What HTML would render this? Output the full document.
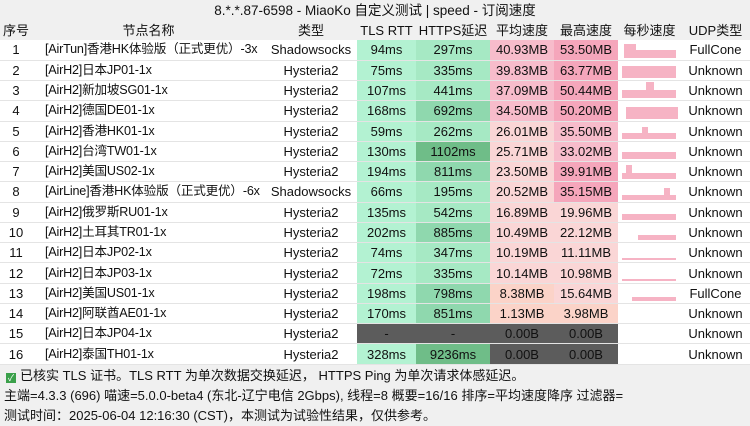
<!DOCTYPE html><html><head><meta charset="utf-8"><style>
body{margin:0;width:750px;height:426px;background:#f0f0f0;font-family:"Liberation Sans","Noto Sans CJK SC",sans-serif;font-size:13px;color:#111;overflow:hidden;position:relative}
.t{height:20px;line-height:21px;text-align:center;font-size:13.5px}
table{border-collapse:collapse;table-layout:fixed;width:750px;position:absolute;top:21px;left:0}
td{height:19.27px;line-height:19px;padding:0;text-align:center;white-space:nowrap;overflow:hidden;border-bottom:1px solid #e4e4e4;background:#fff;box-sizing:border-box}
tr{height:20.27px}
td{height:20.27px}
tr.h{height:19px}
tr.h td{background:#f0f0f0;border-bottom:none;height:19px}
td.n{text-align:left;padding-left:13px;font-size:12.6px;letter-spacing:-0.2px}
.g1{background:#b3f2d2}.g2{background:#a6e9c4}.g3{background:#8fd8ae}.g4{background:#6fbd88}
.p1{background:#f7bccb}.p2{background:#f5a6bb}.p3{background:#fad6d6}.s1{background:#fbd3c8}
.d{background:#5c5c5c;color:#111}
.sp{position:relative}
.sp i{position:absolute;bottom:2px;background:#f6b3c4;width:6px}
.f{position:absolute;left:6px;font-size:13px;line-height:16px}
.ck{display:inline-block;width:10px;height:10px;background:#3aa04a;color:#fff;font-size:9px;line-height:10px;text-align:center;vertical-align:-1px;margin-right:4px}
</style></head><body>
<div class="t">8.*.*.87-6598 - MiaoKo 自定义测试 | speed - 订阅速度</div>
<table>
<colgroup><col style="width:32px"><col style="width:233px"><col style="width:92px"><col style="width:59px"><col style="width:74px"><col style="width:64px"><col style="width:64px"><col style="width:63px"><col style="width:69px"></colgroup>
<tr class="h"><td>序号</td><td>节点名称</td><td>类型</td><td>TLS RTT</td><td>HTTPS延迟</td><td>平均速度</td><td>最高速度</td><td>每秒速度</td><td>UDP类型</td></tr>
<tr><td>1</td><td class="n">[AirTun]香港HK体验版（正式更优）-3x</td><td>Shadowsocks</td><td class="g1">94ms</td><td class="g2">297ms</td><td class="p1">40.93MB</td><td class="p2">53.50MB</td><td class="sp"><i style="left:6px;height:14px;width:12px"></i><i style="left:18px;height:8px;width:40px"></i></td><td>FullCone</td></tr>
<tr><td>2</td><td class="n">[AirH2]日本JP01-1x</td><td>Hysteria2</td><td class="g1">75ms</td><td class="g2">335ms</td><td class="p1">39.83MB</td><td class="p2">63.77MB</td><td class="sp"><i style="left:4px;height:12px;width:54px"></i></td><td>Unknown</td></tr>
<tr><td>3</td><td class="n">[AirH2]新加坡SG01-1x</td><td>Hysteria2</td><td class="g1">107ms</td><td class="g2">441ms</td><td class="p1">37.09MB</td><td class="p2">50.44MB</td><td class="sp"><i style="left:4px;height:8px;width:54px"></i><i style="left:28px;height:16px;width:8px"></i></td><td>Unknown</td></tr>
<tr><td>4</td><td class="n">[AirH2]德国DE01-1x</td><td>Hysteria2</td><td class="g1">168ms</td><td class="g3">692ms</td><td class="p1">34.50MB</td><td class="p2">50.20MB</td><td class="sp"><i style="left:8px;height:12px;width:52px"></i></td><td>Unknown</td></tr>
<tr><td>5</td><td class="n">[AirH2]香港HK01-1x</td><td>Hysteria2</td><td class="g1">59ms</td><td class="g2">262ms</td><td class="p3">26.01MB</td><td class="p1">35.50MB</td><td class="sp"><i style="left:4px;height:6px;width:54px"></i><i style="left:24px;height:12px"></i></td><td>Unknown</td></tr>
<tr><td>6</td><td class="n">[AirH2]台湾TW01-1x</td><td>Hysteria2</td><td class="g1">130ms</td><td class="g4">1102ms</td><td class="p3">25.71MB</td><td class="p1">33.02MB</td><td class="sp"><i style="left:4px;height:7px;width:54px"></i></td><td>Unknown</td></tr>
<tr><td>7</td><td class="n">[AirH2]美国US02-1x</td><td>Hysteria2</td><td class="g1">194ms</td><td class="g3">811ms</td><td class="p3">23.50MB</td><td class="p2">39.91MB</td><td class="sp"><i style="left:8px;height:14px"></i><i style="left:4px;height:6px;width:54px"></i></td><td>Unknown</td></tr>
<tr><td>8</td><td class="n">[AirLine]香港HK体验版（正式更优）-6x</td><td>Shadowsocks</td><td class="g1">66ms</td><td class="g2">195ms</td><td class="p3">20.52MB</td><td class="p2">35.15MB</td><td class="sp"><i style="left:4px;height:5px;width:54px"></i><i style="left:46px;height:12px"></i></td><td>Unknown</td></tr>
<tr><td>9</td><td class="n">[AirH2]俄罗斯RU01-1x</td><td>Hysteria2</td><td class="g1">135ms</td><td class="g2">542ms</td><td class="p3">16.89MB</td><td class="p3">19.96MB</td><td class="sp"><i style="left:4px;height:6px;width:54px"></i></td><td>Unknown</td></tr>
<tr><td>10</td><td class="n">[AirH2]土耳其TR01-1x</td><td>Hysteria2</td><td class="g1">202ms</td><td class="g3">885ms</td><td class="p3">10.49MB</td><td class="p3">22.12MB</td><td class="sp"><i style="left:20px;height:5px;width:38px"></i></td><td>Unknown</td></tr>
<tr><td>11</td><td class="n">[AirH2]日本JP02-1x</td><td>Hysteria2</td><td class="g1">74ms</td><td class="g2">347ms</td><td class="p3">10.19MB</td><td class="p3">11.11MB</td><td class="sp"><i style="left:4px;height:2px;width:54px"></i></td><td>Unknown</td></tr>
<tr><td>12</td><td class="n">[AirH2]日本JP03-1x</td><td>Hysteria2</td><td class="g1">72ms</td><td class="g2">335ms</td><td class="p3">10.14MB</td><td class="p3">10.98MB</td><td class="sp"><i style="left:4px;height:2px;width:54px"></i></td><td>Unknown</td></tr>
<tr><td>13</td><td class="n">[AirH2]美国US01-1x</td><td>Hysteria2</td><td class="g1">198ms</td><td class="g3">798ms</td><td class="s1">8.38MB</td><td class="p3">15.64MB</td><td class="sp"><i style="left:14px;height:4px;width:44px"></i></td><td>FullCone</td></tr>
<tr><td>14</td><td class="n">[AirH2]阿联酋AE01-1x</td><td>Hysteria2</td><td class="g1">170ms</td><td class="g3">851ms</td><td class="s1">1.13MB</td><td class="s1">3.98MB</td><td></td><td>Unknown</td></tr>
<tr><td>15</td><td class="n">[AirH2]日本JP04-1x</td><td>Hysteria2</td><td class="d">-</td><td class="d">-</td><td class="d">0.00B</td><td class="d">0.00B</td><td></td><td>Unknown</td></tr>
<tr><td>16</td><td class="n">[AirH2]泰国TH01-1x</td><td>Hysteria2</td><td class="g1">328ms</td><td class="g4">9236ms</td><td class="d">0.00B</td><td class="d">0.00B</td><td></td><td>Unknown</td></tr>
</table>
<div class="f" style="top:368px"><span class="ck">✓</span>已核实 TLS 证书。TLS RTT 为单次数据交换延迟， HTTPS Ping 为单次请求体感延迟。</div>
<div class="f" style="top:388px;left:4px">主端=4.3.3 (696) 喵速=5.0.0-beta4 (东北-辽宁电信 2Gbps), 线程=8 概要=16/16 排序=平均速度降序 过滤器=</div>
<div class="f" style="top:408px;left:4px">测试时间：2025-06-04 12:16:30 (CST)，本测试为试验性结果，仅供参考。</div>
</body></html>
